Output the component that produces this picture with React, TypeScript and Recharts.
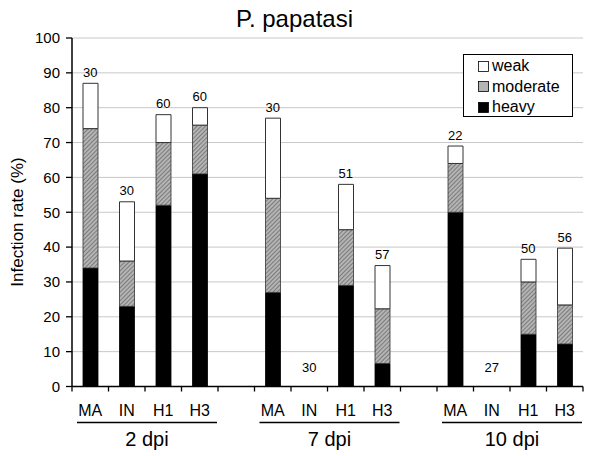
import React from 'react';
import { ComposedChart, Bar, Line, XAxis, YAxis, CartesianGrid, LabelList } from 'recharts';

// one slot per category position; blank slots make the gaps between dpi groups
const slots = ['2-MA', '2-IN', '2-H1', '2-H3', 'gap-a', '7-MA', '7-IN', '7-H1', '7-H3', 'gap-b', '10-MA', '10-IN', '10-H1', '10-H3'];
const tickLabels = ['MA', 'IN', 'H1', 'H3', '', 'MA', 'IN', 'H1', 'H3', '', 'MA', 'IN', 'H1', 'H3'];
const heavy = [34, 23, 52, 61, null, 27, 0, 29, 6.6, null, 50, 0, 15, 12.2];
const moderate = [40, 13, 18, 14, null, 27, 0, 16, 15.7, null, 14, 0, 15, 11.2];
const weak = [13, 17, 8, 5, null, 23, 0, 13, 12.4, null, 5, 0, 6.5, 16.3];
const sampleSizes = ['30', '30', '60', '60', '', '30', '30', '51', '57', '', '22', '27', '50', '56'];
const groups = [
  { label: '2 dpi', first: 0, last: 3 },
  { label: '7 dpi', first: 5, last: 8 },
  { label: '10 dpi', first: 10, last: 13 },
];
const yTicks = [0, 10, 20, 30, 40, 50, 60, 70, 80, 90, 100];

const data = slots.map((slot, i) => ({
  slot,
  heavy: heavy[i],
  moderate: moderate[i],
  weak: weak[i],
  total: heavy[i] === null ? null : (heavy[i] as number) + (moderate[i] as number) + (weak[i] as number),
  n: sampleSizes[i],
}));

const W = 600;
const H = 456;
const M = { top: 38, right: 17, left: 0, bottom: 0 };
const Y_W = 72;
const AXIS_Y = 386.5;
const BW = (W - M.left - M.right - Y_W) / slots.length;
const FONT = 'Liberation Sans, Arial, sans-serif';
const HATCH_BG = '#b4b4b4';

const CategoryTick = (props: any) => {
  const { x, y, payload } = props;
  const i = payload.index;
  const group = groups.find((g) => g.first === i);
  return (
    <g>
      <line x1={x - BW / 2} x2={x - BW / 2} y1={y} y2={y + 5} stroke="#000" strokeWidth={1.3} />
      {i === slots.length - 1 && (
        <line x1={x + BW / 2} x2={x + BW / 2} y1={y} y2={y + 5} stroke="#000" strokeWidth={1.3} />
      )}
      <text x={x} y={y + 29.5} textAnchor="middle" fontSize={16} fill="#000" fontFamily={FONT}>
        {tickLabels[i]}
      </text>
      {group && (
        <g>
          <line
            x1={x - BW / 2 + 5}
            x2={x + (group.last - group.first) * BW + BW / 2 - 1}
            y1={y + 36}
            y2={y + 36}
            stroke="#000"
            strokeWidth={1.5}
          />
          <text
            x={x + ((group.last - group.first) * BW) / 2 + 2}
            y={y + 59.5}
            textAnchor="middle"
            fontSize={20}
            fill="#000"
            fontFamily={FONT}
          >
            {group.label}
          </text>
        </g>
      )}
    </g>
  );
};

// sample size label above each stack (empty stacks get it a bit higher, like the original)
const SizeLabel = (props: any) => {
  const { x, y, value, index } = props;
  if (!value) return null;
  const empty = data[index].total === 0;
  return (
    <text x={x} y={y - (empty ? 15 : 6.5)} textAnchor="middle" fontSize={13} fill="#000" fontFamily={FONT}>
      {value}
    </text>
  );
};

const legendItems = [
  { name: 'weak', fill: '#fff' },
  { name: 'moderate', fill: HATCH_BG },
  { name: 'heavy', fill: '#000' },
];

const LegendBox = () => (
  <div
    style={{
      position: 'absolute',
      left: 463,
      top: 54,
      width: 110,
      height: 63,
      border: '1px solid #000',
      background: '#fff',
      padding: '1px 0 0 14px',
      fontFamily: FONT,
      fontSize: 16,
      lineHeight: '20.5px',
      boxSizing: 'border-box',
      color: '#000',
    }}
  >
    {legendItems.map((it) => (
      <div key={it.name} style={{ display: 'flex', alignItems: 'center' }}>
        <svg width={11} height={11} style={{ marginRight: 3 }}>
          <rect x={0.5} y={0.5} width={10} height={10} fill={it.fill} stroke="#000" strokeWidth={0.8} />
        </svg>
        <span>{it.name}</span>
      </div>
    ))}
  </div>
);

export default function App() {
  return (
    <div style={{ position: 'absolute', left: 0, top: 0, width: W, height: H, background: '#fff' }}>
      <div
        style={{
          position: 'absolute',
          top: 4,
          left: 0,
          width: 589,
          textAlign: 'center',
          fontFamily: FONT,
          fontSize: 24,
          lineHeight: '30px',
          color: '#000',
        }}
      >
        P. papatasi
      </div>
      <div
        style={{
          position: 'absolute',
          left: 18,
          top: 222,
          transform: 'translate(-50%, -50%) rotate(-90deg)',
          whiteSpace: 'nowrap',
          fontFamily: FONT,
          fontSize: 17,
          color: '#000',
        }}
      >
        Infection rate (%)
      </div>
      <ComposedChart width={W} height={H} data={data} margin={M} barCategoryGap={0} barSize={15}>
        <defs>
          <pattern id="hatch" patternUnits="userSpaceOnUse" width={3} height={3} patternTransform="rotate(45)">
            <rect width={3} height={3} fill={HATCH_BG} />
            <line x1={0} y1={0} x2={0} y2={3} stroke="#555" strokeWidth={1.2} />
          </pattern>
        </defs>
        <CartesianGrid vertical={false} stroke="#c8c8c8" strokeWidth={1} />
        <XAxis
          dataKey="slot"
          height={H - AXIS_Y}
          interval={0}
          tickLine={false}
          tickSize={0}
          tickMargin={0}
          axisLine={{ stroke: '#000', strokeWidth: 1.5 }}
          tick={<CategoryTick />}
        />
        <YAxis
          width={Y_W}
          domain={[0, 100]}
          ticks={yTicks}
          interval={0}
          tickSize={6}
          tickLine={{ stroke: '#000', strokeWidth: 1.3 }}
          axisLine={{ stroke: '#000', strokeWidth: 1.5 }}
          tick={{ fontSize: 15, fill: '#000', fontFamily: FONT }}
          tickMargin={6}
        />
        <YAxis
          yAxisId="frame"
          orientation="right"
          width={0}
          tick={false}
          tickLine={false}
          axisLine={{ stroke: '#a0a0a0', strokeWidth: 1 }}
          domain={[0, 100]}
        />
        <Bar dataKey="heavy" stackId="s" fill="#000" stroke="#000" strokeWidth={0.8} isAnimationActive={false} />
        <Bar dataKey="moderate" stackId="s" fill="url(#hatch)" stroke="#333" strokeWidth={0.8} isAnimationActive={false} />
        <Bar dataKey="weak" stackId="s" fill="#fff" stroke="#333" strokeWidth={1} isAnimationActive={false} />
        <Line dataKey="total" stroke="none" dot={false} activeDot={false} legendType="none" isAnimationActive={false}>
          <LabelList dataKey="n" content={<SizeLabel />} />
        </Line>
      </ComposedChart>
      <LegendBox />
    </div>
  );
}
